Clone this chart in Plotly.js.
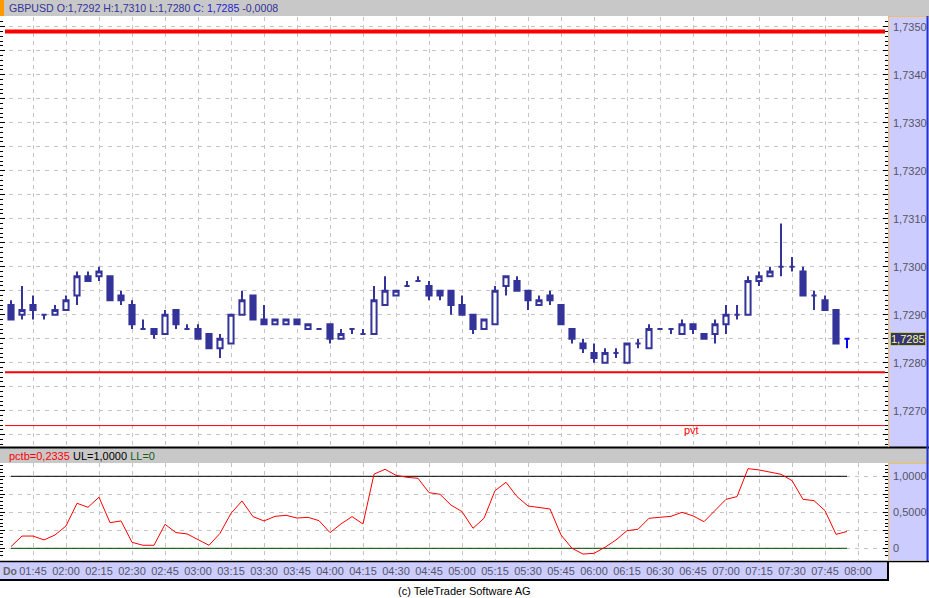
<!DOCTYPE html>
<html><head><meta charset="utf-8">
<script src="https://cdn.plot.ly/plotly-3.0.1.min.js"></script>
<style>html,body{margin:0;padding:0;background:#fff;}#chart{width:929px;height:598px;}</style>
</head><body><div id="chart"></div>
<script>
var day = '2004-06-10 ';
var times = ['01:35','01:40','01:45','01:50','01:55','02:00','02:05','02:10','02:15','02:20','02:25','02:30','02:35','02:40','02:45','02:50','02:55','03:00','03:05','03:10','03:15','03:20','03:25','03:30','03:35','03:40','03:45','03:50','03:55','04:00','04:05','04:10','04:15','04:20','04:25','04:30','04:35','04:40','04:45','04:50','04:55','05:00','05:05','05:10','05:15','05:20','05:25','05:30','05:35','05:40','05:45','05:50','05:55','06:00','06:05','06:10','06:15','06:20','06:25','06:30','06:35','06:40','06:45','06:50','06:55','07:00','07:05','07:10','07:15','07:20','07:25','07:30','07:35','07:40','07:45','07:50','07:55'];
var openP = [1.7292,1.7290,1.7292,1.7290,1.7290,1.7291,1.7294,1.7298,1.7298,1.7298,1.7294,1.7292,1.7287,1.7287,1.7286,1.7291,1.7287,1.7287,1.7286,1.7283,1.7284,1.7290,1.7294,1.7289,1.7288,1.7288,1.7289,1.7287,1.7287,1.7288,1.7285,1.7287,1.7286,1.7286,1.7292,1.7294,1.7296,1.7297,1.7296,1.7295,1.7295,1.7292,1.7290,1.7287,1.7288,1.7296,1.7297,1.7295,1.7292,1.7294,1.7292,1.7287,1.7284,1.7282,1.7280,1.7282,1.7280,1.7284,1.7283,1.7287,1.7287,1.7286,1.7288,1.7286,1.7286,1.7288,1.7290,1.7290,1.7297,1.7298,1.7300,1.7300,1.7299,1.7294,1.7293,1.7291,1.7285];
var highP = [1.7293,1.7296,1.7294,1.7290,1.7292,1.7294,1.7299,1.7299,1.7300,1.7298,1.7295,1.7293,1.7289,1.7287,1.7291,1.7291,1.7288,1.7288,1.7286,1.7286,1.7290,1.7295,1.7294,1.7292,1.7289,1.7289,1.7289,1.7288,1.7287,1.7288,1.7287,1.7287,1.7287,1.7296,1.7298,1.7295,1.7297,1.7298,1.7297,1.7295,1.7295,1.7294,1.7290,1.7289,1.7296,1.7298,1.7298,1.7295,1.7294,1.7295,1.7292,1.7287,1.7285,1.7284,1.7283,1.7283,1.7284,1.7285,1.7288,1.7287,1.7287,1.7289,1.7288,1.7286,1.7289,1.7292,1.7292,1.7298,1.7299,1.7300,1.7309,1.7302,1.7300,1.7295,1.7294,1.7291,1.7285];
var lowP = [1.7289,1.7289,1.7289,1.7289,1.7290,1.7291,1.7292,1.7297,1.7297,1.7293,1.7292,1.7287,1.7287,1.7285,1.7286,1.7287,1.7287,1.7285,1.7283,1.7281,1.7284,1.7290,1.7289,1.7288,1.7288,1.7288,1.7288,1.7287,1.7287,1.7284,1.7285,1.7286,1.7286,1.7286,1.7292,1.7294,1.7296,1.7297,1.7293,1.7293,1.7290,1.7290,1.7286,1.7287,1.7288,1.7294,1.7295,1.7291,1.7292,1.7292,1.7288,1.7284,1.7282,1.7280,1.7280,1.7281,1.7280,1.7283,1.7283,1.7287,1.7286,1.7286,1.7286,1.7285,1.7284,1.7286,1.7289,1.7290,1.7296,1.7298,1.7298,1.7299,1.7294,1.7291,1.7291,1.7284,1.7283];
var closeP = [1.7289,1.7291,1.7291,1.7290,1.7291,1.7293,1.7298,1.7297,1.7299,1.7293,1.7293,1.7288,1.7287,1.7286,1.7290,1.7288,1.7287,1.7285,1.7283,1.7285,1.7290,1.7293,1.7289,1.7288,1.7289,1.7289,1.7288,1.7288,1.7287,1.7285,1.7286,1.7287,1.7286,1.7293,1.7295,1.7295,1.7296,1.7297,1.7294,1.7294,1.7292,1.7290,1.7287,1.7289,1.7295,1.7298,1.7295,1.7293,1.7293,1.7293,1.7288,1.7285,1.7283,1.7281,1.7282,1.7282,1.7284,1.7284,1.7287,1.7287,1.7287,1.7288,1.7287,1.7285,1.7288,1.7290,1.7290,1.7297,1.7298,1.7299,1.7300,1.7300,1.7294,1.7294,1.7291,1.7284,1.7285];
var pctb = [0.023,0.17,0.17,0.116,0.185,0.31,0.625,0.57,0.71,0.356,0.38,0.083,0.042,0.042,0.333,0.218,0.2,0.125,0.042,0.208,0.486,0.657,0.44,0.38,0.444,0.458,0.42,0.43,0.384,0.218,0.338,0.44,0.338,1.03,1.097,1.014,0.986,0.972,0.773,0.75,0.6,0.51,0.278,0.417,0.8,0.917,0.718,0.588,0.57,0.546,0.185,0.0,-0.08,-0.07,0.014,0.116,0.245,0.264,0.417,0.43,0.444,0.5,0.45,0.37,0.532,0.68,0.718,1.106,1.088,1.06,1.028,0.94,0.68,0.662,0.523,0.194,0.2335];
var levelLines = [1.7349, 1.7278, 1.72669];   // thick, medium, pvt
var levelWidths = [4, 2, 1];
var UL = 1.0, LL = 0.0;
var lastPrice = 1.7285;
var xTickText = ['01:45','02:00','02:15','02:30','02:45','03:00','03:15','03:30','03:45','04:00','04:15','04:30','04:45','05:00','05:15','05:30','05:45','06:00','06:15','06:30','06:45','07:00','07:15','07:30','07:45','08:00'];
var yTickVals = [1.7265,1.7270,1.7275,1.7280,1.7285,1.7290,1.7295,1.7300,1.7305,1.7310,1.7315,1.7320,1.7325,1.7330,1.7335,1.7340,1.7345,1.7350];
var yTickText = ['','1,7270','','1,7280','','1,7290','','1,7300','','1,7310','','1,7320','','1,7330','','1,7340','','1,7350'];
var y2TickVals = [0,0.25,0.5,0.75,1.0];
var y2TickText = ['0','','0,5000','','1,0000'];

var X = times.map(function(t){return day+t;});
var n = X.length;

// pixel helpers (layout only)
var PW = 888, PB = 560, PH = 543;
function px(x){return x/PW;}
function py(y){return (PB-y)/PH;}

var FONT = 'Liberation Sans, Arial, sans-serif';
var NAVY = '#333399';

var traces = [
 {type:'candlestick', x:X.slice(0,n-1), open:openP.slice(0,n-1), high:highP.slice(0,n-1), low:lowP.slice(0,n-1), close:closeP.slice(0,n-1),
  increasing:{line:{color:NAVY,width:2}, fillcolor:'#ffffff'},
  decreasing:{line:{color:NAVY,width:2}, fillcolor:NAVY},
  whiskerwidth:0, xaxis:'x', yaxis:'y', hoverinfo:'skip', showlegend:false},
 {type:'candlestick', x:X.slice(n-1), open:openP.slice(n-1), high:highP.slice(n-1), low:lowP.slice(n-1), close:closeP.slice(n-1),
  increasing:{line:{color:'#0000ff',width:2}, fillcolor:'#ffffff'},
  decreasing:{line:{color:'#0000ff',width:2}, fillcolor:'#0000ff'},
  whiskerwidth:0, xaxis:'x', yaxis:'y', hoverinfo:'skip', showlegend:false},
 {type:'scatter', mode:'lines', x:[X[0],X[n-1]], y:[UL,UL], line:{color:'#000000',width:1}, xaxis:'x', yaxis:'y2', hoverinfo:'skip', showlegend:false},
 {type:'scatter', mode:'lines', x:[X[0],X[n-1]], y:[LL,LL], line:{color:'#004400',width:1}, xaxis:'x', yaxis:'y2', hoverinfo:'skip', showlegend:false},
 {type:'scatter', mode:'lines', x:X, y:pctb, line:{color:'#ff0000',width:1}, xaxis:'x', yaxis:'y2', hoverinfo:'skip', showlegend:false}
];

var shapes = [];
function rect(x0,y0,x1,y1,fill){shapes.push({type:'rect',xref:'paper',yref:'paper',x0:px(x0),x1:px(x1),y0:py(y1),y1:py(y0),fillcolor:fill,line:{width:0},layer:'below'});}
function line(x0,y0,x1,y1,col,w){shapes.push({type:'line',xref:'paper',yref:'paper',x0:px(x0),x1:px(x1),y0:py(y0),y1:py(y1),line:{color:col,width:w},layer:'above'});}
rect(0,0,929,16,'#c8c8c8');
rect(0,0,4,16,'#ff9900');
rect(0,448,929,463,'#c8c8c8');
rect(888,16,929,447,'#ccccff');
rect(888,463,929,560,'#ccccff');
rect(0,562,888,580,'#ccccff');
line(0,447.5,929,447.5,'#000000',2);
line(888.5,16,888.5,447,'#f0c060',1);
line(888,16.5,929,16.5,'#f0c060',1);
line(888.5,463,888.5,560,'#f0c060',1);
line(888,463.5,929,463.5,'#f0c060',1);
line(927.5,16,927.5,561,'#2233cc',2);
line(0,561.5,929,561.5,'#000000',1.5);
line(0,580,889,580,'#000000',2);
line(888,562,888,581,'#000000',2);
// price level lines
for (var i=0;i<levelLines.length;i++){
  shapes.push({type:'line',xref:'paper',yref:'y',x0:px(5),x1:px(885),y0:levelLines[i],y1:levelLines[i],line:{color:'#ff0000',width:levelWidths[i]},layer:'above'});
}

var annotations = [
 {xref:'paper',yref:'paper',x:px(7),y:py(8),xanchor:'left',yanchor:'middle',showarrow:false,
  text:'<span style="color:#333399">GBPUSD O:1,7292 H:1,7310 L:1,7280 </span><span style="color:#2424cc">C: 1,7285</span><span style="color:#333399"> -0,0008</span>',
  font:{family:FONT,size:10.6,color:NAVY}},
 {xref:'paper',yref:'paper',x:px(7),y:py(456),xanchor:'left',yanchor:'middle',showarrow:false,
  text:'<span style="color:#ff0000">pctb=0,2335</span> <span style="color:#000000">UL=1,0000</span> <span style="color:#1a5c1a">LL=0</span>',
  font:{family:FONT,size:11,color:'#000'}},
 {xref:'paper',yref:'y',x:px(691),y:levelLines[2],yshift:-4,xanchor:'center',yanchor:'middle',showarrow:false,
  text:'pvt',font:{family:FONT,size:11,color:'#ff0000'}},
 {xref:'paper',yref:'y',x:px(890),y:lastPrice,xanchor:'left',yanchor:'middle',showarrow:false,
  text:'1,7285',font:{family:FONT,size:11,color:'#ffff66'},bgcolor:'#333380',bordercolor:'#c8c860',borderwidth:1,borderpad:0},
 {xref:'paper',yref:'paper',x:px(1),y:py(571),xanchor:'left',yanchor:'middle',showarrow:false,
  text:'<b>Do</b>',font:{family:FONT,size:10.5,color:'#666666'}},
 {xref:'paper',yref:'paper',x:px(464.5),y:py(591),xanchor:'center',yanchor:'middle',showarrow:false,
  text:'(c) TeleTrader Software AG',font:{family:FONT,size:11,color:'#000000'}}
];

var gridCol = '#c4c4c4';
var layout = {
  width:929, height:598,
  margin:{l:0,r:41,t:17,b:38,pad:0},
  paper_bgcolor:'#ffffff', plot_bgcolor:'#ffffff',
  showlegend:false,
  boxgap:0.33,
  font:{family:FONT,size:11,color:'#555555'},
  xaxis:{type:'date', anchor:'y2', range:[day+'01:30:00', day+'08:13:38.18'],
    tickvals:xTickText.map(function(t){return day+t;}), ticktext:xTickText,
    showgrid:true, gridcolor:gridCol, griddash:'4px,4px', gridwidth:1,
    ticks:'', showline:false, zeroline:false, fixedrange:true, ticklabelstandoff:3,
    rangeslider:{visible:false}, tickfont:{family:FONT,size:11,color:'#555566'}},
  yaxis:{domain:[py(447),1], side:'right', range:[1.726244,1.735202],
    tickmode:'array', tickvals:yTickVals, ticktext:yTickText,
    showgrid:true, gridcolor:gridCol, griddash:'4px,5px', gridwidth:1,
    ticks:'inside', ticklen:5, tickcolor:'#000000', tickwidth:1, mirror:'ticks', showline:false, zeroline:false,
    minor:{dtick:0.0001, tick0:1.7, ticks:'inside', ticklen:3, tickcolor:'#000000', tickwidth:1, showgrid:false},
    ticklabelstandoff:4, tickfont:{family:FONT,size:11,color:'#555566'}},
  yaxis2:{domain:[0,py(463)], side:'right', range:[-0.1625,1.1847],
    tickmode:'array', tickvals:y2TickVals, ticktext:y2TickText,
    showgrid:true, gridcolor:gridCol, griddash:'4px,5px', gridwidth:1,
    ticks:'inside', ticklen:5, tickcolor:'#000000', tickwidth:1, mirror:'ticks', showline:false, zeroline:false,
    minor:{dtick:0.05, tick0:0, ticks:'inside', ticklen:3, tickcolor:'#000000', tickwidth:1, showgrid:false},
    ticklabelstandoff:4, tickfont:{family:FONT,size:11,color:'#555566'}},
  shapes:shapes,
  annotations:annotations
};
Plotly.newPlot('chart', traces, layout, {staticPlot:true, displayModeBar:false});
</script></body></html>
